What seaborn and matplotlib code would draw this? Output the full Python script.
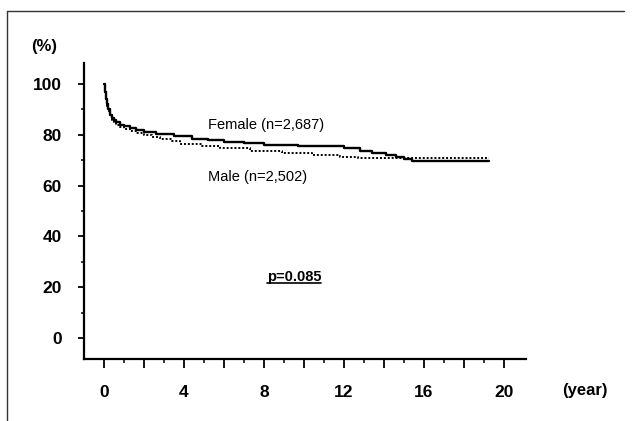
import matplotlib
matplotlib.use("Agg")
import matplotlib.pyplot as plt
import seaborn as sns
import pandas as pd
from matplotlib.ticker import FixedLocator, FuncFormatter
from matplotlib.lines import Line2D

# ---- data ----
female_t = [0, 0.05, 0.1, 0.15, 0.2, 0.3, 0.4, 0.5, 0.6, 0.8, 1.0, 1.3, 1.6, 2.0, 2.6,
            3.5, 4.4, 5.2, 6.0, 7.0, 8.0, 9.7, 12.0, 12.8, 13.4, 14.1, 14.6, 15.0, 15.4, 19.26]
female_s = [100, 97, 94, 92, 90, 88, 86.8, 85.8, 85, 84, 83.3, 82.6, 82, 81.3, 80.3,
            79.4, 78.5, 77.8, 77.2, 76.8, 76.1, 75.6, 74.7, 73.7, 72.7, 72.0, 71.1, 70.4, 69.6, 69.6]
male_t = [0, 0.05, 0.1, 0.15, 0.2, 0.3, 0.4, 0.5, 0.6, 0.8, 1.0, 1.3, 1.6, 2.0, 2.4, 2.8,
          3.4, 3.8, 4.9, 5.8, 7.3, 8.9, 10.4, 11.8, 12.7, 19.26]
male_s = [100, 97, 94, 91.5, 89.5, 87.5, 86, 85, 84, 83, 82.3, 81.5, 80.8, 80, 79, 78.2,
          77.4, 76.5, 75.5, 74.7, 73.6, 72.8, 72, 71.4, 70.9, 70.9]
female_label = "Female (n=2,687)"
male_label = "Male (n=2,502)"
p_label = "p=0.085"
x_ticks = [0, 4, 8, 12, 16, 20]
y_ticks = [0, 20, 40, 60, 80, 100]

sns.set_style("ticks")
plt.rcParams['font.family'] = ['Liberation Sans', 'DejaVu Sans']
plt.rcParams['text.color'] = 'black'
plt.rcParams['xtick.color'] = 'black'
plt.rcParams['ytick.color'] = 'black'
narrow = ['Liberation Sans Narrow', 'DejaVu Sans Condensed', 'Liberation Sans']

fig = plt.figure(figsize=(6.32, 4.21), dpi=100)
ax = fig.add_axes([84 / 632, (421 - 359) / 421, (526 - 84) / 632, (359 - 63) / 421])

df_f = pd.DataFrame({"t": female_t, "s": female_s})
df_m = pd.DataFrame({"t": male_t, "s": male_s})
sns.lineplot(data=df_f, x="t", y="s", ax=ax, color="black", lw=1.7,
             drawstyle="steps-post", estimator=None)
sns.lineplot(data=df_m, x="t", y="s", ax=ax, color="black", lw=1.4,
             linestyle=(0, (1, 1)), drawstyle="steps-post", estimator=None)

ax.set_xlim(-1, 21.1)
ax.set_ylim(-8.3, 108.3)
ax.set_xlabel("")
ax.set_ylabel("")
for side in ["top", "right"]:
    ax.spines[side].set_visible(False)
for side in ["left", "bottom"]:
    ax.spines[side].set_linewidth(1.6)
    ax.spines[side].set_color("black")

ax.xaxis.set_major_locator(FixedLocator(list(range(0, 21, 2))))
ax.xaxis.set_minor_locator(FixedLocator(list(range(1, 20, 2))))
ax.xaxis.set_major_formatter(FuncFormatter(lambda v, p: f"{int(round(v))}" if int(round(v)) in x_ticks else ""))
ax.yaxis.set_major_locator(FixedLocator(y_ticks))
ax.yaxis.set_minor_locator(FixedLocator([10, 30, 50, 70, 90]))
ax.tick_params(axis="x", which="major", length=6.5, width=1.3, direction="out", pad=12,
               labelsize=12.5, colors="black")
ax.tick_params(axis="x", which="minor", length=3, width=1.1, direction="out", colors="black")
ax.tick_params(axis="y", which="major", length=4, width=1.3, direction="out", pad=12,
               labelsize=12.5, colors="black")
ax.tick_params(axis="y", which="minor", length=2, width=1.1, direction="out", colors="black")
for lab in ax.get_xticklabels() + ax.get_yticklabels():
    lab.set_fontweight("bold")
    lab.set_family(narrow)

ax.text(5.2, 84, female_label, fontsize=10.5, ha="left", va="center", color="black")
ax.text(5.2, 63.4, male_label, fontsize=10.5, ha="left", va="center", color="black")
ptxt = ax.text(9.5, 24.1, p_label, fontsize=10.5, fontweight="bold", ha="center",
               va="center", color="black")
ax.text(-2.97, 114.7, "(%)", fontsize=12, fontweight="bold", ha="center", va="center",
        clip_on=False, family=narrow, color="black")
ax.text(24.05, -20.8, "(year)", fontsize=12, fontweight="bold", ha="center", va="center",
        clip_on=False, family=narrow, color="black")

# underline for p-value
fig.canvas.draw()
bb = ptxt.get_window_extent(renderer=fig.canvas.get_renderer())
inv = fig.transFigure.inverted()
(x0, y0), (x1, y1) = inv.transform([(bb.x0, bb.y0 + 1), (bb.x1, bb.y0 + 1)])
fig.add_artist(Line2D([x0, x1], [y0, y1], color="black", lw=1.2, transform=fig.transFigure))

# outer frame (top and left edges visible in the reference)
fl = 6.7 / 632
ft = 1 - 10.7 / 421
fig.add_artist(Line2D([fl, 624 / 632], [ft, ft], color="#333333", lw=1.0,
                      transform=fig.transFigure))
fig.add_artist(Line2D([fl, fl], [0, ft], color="#333333", lw=1.0,
                      transform=fig.transFigure))

fig.savefig("out.png", dpi=100)
